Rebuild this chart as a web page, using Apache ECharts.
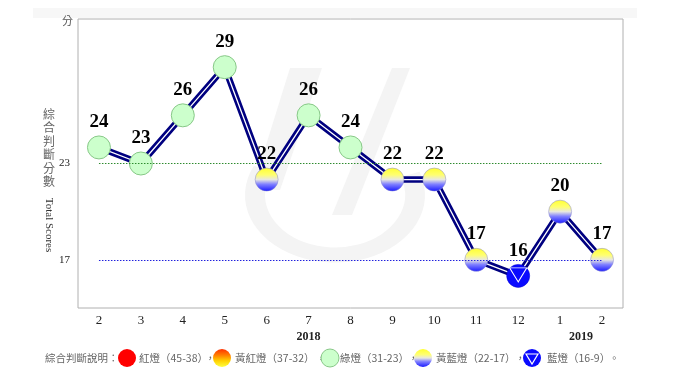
<!DOCTYPE html>
<html><head><meta charset="utf-8">
<script src="https://cdn.jsdelivr.net/npm/echarts@6/dist/echarts.min.js"></script>
<style>html,body{margin:0;padding:0;background:#fff}#c{width:680px;height:383px}</style>
</head><body><div id="c"></div>
<script>
var months = ['2','3','4','5','6','7','8','9','10','11','12','1','2'];
var scores = [24,23,26,29,22,26,24,22,22,17,16,20,17];
var yearLabels = [{text:'2018', from:5, to:5},{text:'2019', from:11, to:12}];
var refLines = [23, 17];
var yTicks = [17, 23];
var legendItems = [
  {kind:'red', text:'紅燈（45-38）'},
  {kind:'orange', text:'黃紅燈（37-32）'},
  {kind:'green', text:'綠燈（31-23）'},
  {kind:'yb', text:'黃藍燈（22-17）'},
  {kind:'blue', text:'藍燈（16-9）'}
];

var serif = 'Liberation Serif, Times New Roman, serif';
var cjk = 'Noto Sans CJK TC, sans-serif';

function ybGrad(){
  return new echarts.graphic.LinearGradient(0,0,0,1,[
    {offset:0,color:'#ffff30'},{offset:0.3,color:'#ffff70'},
    {offset:0.5,color:'#e8e8e0'},{offset:0.7,color:'#8080ff'},{offset:1,color:'#1a1aff'}]);
}
function orGrad(){
  return new echarts.graphic.LinearGradient(0,0,0,1,[
    {offset:0,color:'#ff3000'},{offset:0.35,color:'#ff8000'},
    {offset:0.65,color:'#ffd000'},{offset:1,color:'#ffff40'}]);
}
function styleFor(v){
  if (v >= 23) return {color:'#ccffcc', borderColor:'#88c888', borderWidth:1, opacity:1};
  if (v >= 17) return {color:ybGrad(), borderColor:'#8888cc', borderWidth:0.5, opacity:1};
  return {color:'#0a0aff', borderColor:'#0000cc', borderWidth:0.5, opacity:1};
}

var markerData = scores.map(function(v,i){ return {value:[i,v], itemStyle:styleFor(v)}; });
var triData = [];
scores.forEach(function(v,i){ if (v < 17) triData.push([i,v]); });

var chart = echarts.init(document.getElementById('c'), null, {renderer:'canvas'});
var option = {
  animation:false,
  backgroundColor:'#fff',
  grid:{left:78, right:57, top:19, bottom:75, show:true, borderColor:'#b0b0b0', borderWidth:1, backgroundColor:'transparent'},
  xAxis:{type:'category', data:months, boundaryGap:true,
    axisLine:{show:false}, axisTick:{show:false}, splitLine:{show:false},
    axisLabel:{fontFamily:serif, fontSize:13, color:'#222', margin:6}},
  yAxis:{type:'value', min:14, max:32,
    axisLine:{show:false}, axisTick:{show:false}, splitLine:{show:false},
    axisLabel:{customValues:yTicks, fontFamily:serif, fontSize:11, color:'#222', margin:8}},
  series:[
    {type:'line', data:scores, symbol:'none', lineStyle:{color:'#000080', width:6.5}, z:2,
     markLine:{silent:true, symbol:'none', label:{show:false},
       data:[
        [{coord:[0,refLines[0]], lineStyle:{color:'#2e8b2e', type:[1.5,1.5], width:1}},{coord:[12,refLines[0]]}],
        [{coord:[0,refLines[1]], lineStyle:{color:'#2020dd', type:[1.5,1.5], width:1}},{coord:[12,refLines[1]]}]
       ]}},
    {type:'line', data:scores, symbol:'none', lineStyle:{color:'#ffffff', width:1.3}, z:3},
    {type:'scatter', data:markerData, symbol:'circle', symbolSize:23, z:4,
     label:{show:true, position:'top', distance:4, formatter:function(p){return p.value[1];},
       fontFamily:serif, fontWeight:'bold', fontSize:19, color:'#000'}},
    {type:'scatter', data:triData, symbol:'triangle', symbolRotate:180, symbolSize:[17,14], symbolOffset:[0,-1], z:5,
     itemStyle:{color:'rgba(0,0,0,0)', borderColor:'#ffffff', borderWidth:1, opacity:1}}
  ]
};
chart.setOption(option);

function px(i,v){ return chart.convertToPixel({gridIndex:0},[i,v]); }

var g = [];
g.push({type:'rect', shape:{x:33,y:8,width:604,height:10}, style:{fill:'#f7f7f7'}, z:-10, silent:true});
// faint watermark
var wm = '#f4f4f4';
g.push({type:'polygon', shape:{points:[[290,68],[322,68],[280,190],[252,190]]}, style:{fill:wm}, z:-10, silent:true});
g.push({type:'polygon', shape:{points:[[392,68],[410,68],[352,215],[332,215]]}, style:{fill:wm}, z:-10, silent:true});
g.push({type:'sector', shape:{cx:335, cy:195, r:90, r0:70, startAngle:-0.35, endAngle:Math.PI+0.45, clockwise:true}, scaleY:0.75, originX:335, originY:195, style:{fill:wm}, z:-10, silent:true});
// text
g.push({type:'text', x:62, y:15, style:{text:'分', font:'11px '+cjk, fill:'#555'}});
g.push({type:'text', x:49, y:148, style:{text:'綜\n合\n判\n斷\n分\n數', font:'12px '+cjk, fill:'#666', lineHeight:13.5, align:'center', verticalAlign:'middle'}});
g.push({type:'text', x:49, y:225, rotation:-Math.PI/2, style:{text:'Total Scores', font:'11px '+serif, fill:'#333', align:'center', verticalAlign:'middle'}});
yearLabels.forEach(function(y){
  var a = px(y.from,20)[0], b = px(y.to,20)[0];
  g.push({type:'text', x:(a+b)/2, y:337, style:{text:y.text, font:'bold 12px '+serif, fill:'#222', align:'center', verticalAlign:'middle'}});
});
// legend
var ly = 358;
var lf = '11px '+cjk;
g.push({type:'text', x:45, y:ly, style:{text:'綜合判斷說明：', font:'10.5px '+cjk, fill:'#666', verticalAlign:'middle'}});
var lx = [127, 222, 330, 423, 532];
var tx = [139, 235, 340, 436, 547];
var sx = [205, 316, 408, 515, 609];
legendItems.forEach(function(it,k){
  var cx = lx[k], fill, stroke='none';
  if (it.kind==='red') fill='#ff0000';
  else if (it.kind==='orange') fill=orGrad();
  else if (it.kind==='green') {fill='#ccffcc'; stroke='#88c888';}
  else if (it.kind==='yb') fill=ybGrad();
  else fill='#0a0aff';
  g.push({type:'circle', shape:{cx:cx, cy:ly, r:9}, style:{fill:fill, stroke:stroke, lineWidth:1}});
  if (it.kind==='blue') {
    g.push({type:'polygon', shape:{points:[[cx-6,ly-4],[cx+6,ly-4],[cx,ly+6]]}, style:{fill:'none', stroke:'#fff', lineWidth:1.2}});
  }
  g.push({type:'text', x:tx[k], y:ly, style:{text:it.text, font:'10.5px '+cjk, fill:'#666', verticalAlign:'middle'}});
  g.push({type:'text', x:sx[k], y:ly, style:{text:(k<4?'，':'。'), font:'10.5px '+cjk, fill:'#666', verticalAlign:'middle'}});
});
chart.setOption({graphic:g});
</script></body></html>
